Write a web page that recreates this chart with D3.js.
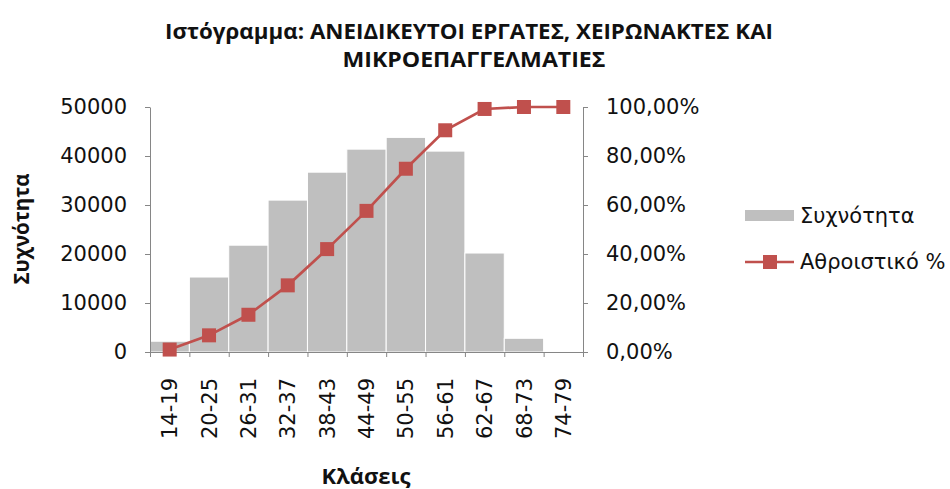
<!DOCTYPE html>
<html>
<head>
<meta charset="utf-8">
<script src="https://cdn.jsdelivr.net/npm/d3@7"></script>
<style>
  body { margin: 0; background: #fff; }
  svg { display: block; }
  .tick text { font-family: "DejaVu Sans", sans-serif; font-size: 21px; fill: #111; }
  .axis path, .axis line { stroke: #868686; }
  .ttl { font-family: "Open Sans", sans-serif; font-weight: bold; fill: #111; }
  .leg { font-family: "DejaVu Sans", sans-serif; font-size: 21px; fill: #111; }
</style>
</head>
<body>
<svg id="chart" width="950" height="489"></svg>
<script>
const classes = ["14-19", "20-25", "26-31", "32-37", "38-43", "44-49", "50-55", "56-61", "62-67", "68-73", "74-79"];
const frequency = [2200, 15300, 21800, 31000, 36700, 41400, 43800, 41000, 20200, 2800, 0];
const cumulative = [0.010, 0.068, 0.152, 0.272, 0.420, 0.576, 0.748, 0.905, 0.992, 1.0, 1.0];
const leftTicks = [0, 10000, 20000, 30000, 40000, 50000];
const rightTicks = [0, 0.2, 0.4, 0.6, 0.8, 1.0];

const svg = d3.select("#chart");
const plotLeft = 150, plotRight = 583, plotTop = 107, plotBottom = 352;
const barColor = "#BFBFBF", lineColor = "#C0504D";

const x = d3.scaleBand().domain(classes).range([plotLeft, plotRight]).padding(0);
const edge = d3.scaleLinear().domain([0, classes.length]).range([plotLeft, plotRight]);
const y = d3.scaleLinear().domain([0, 50000]).range([plotBottom, plotTop]);
const y2 = d3.scaleLinear().domain([0, 1]).range([plotBottom, plotTop]);

// bars
svg.append("g").selectAll("rect")
  .data(frequency)
  .enter().append("rect")
  .attr("x", (d, i) => x(classes[i]))
  .attr("width", x.bandwidth())
  .attr("y", d => y(d))
  .attr("height", d => plotBottom - y(d))
  .attr("fill", barColor)
  .attr("stroke", "#fff")
  .attr("stroke-width", 1);

// axes
svg.append("g").attr("class", "axis")
  .attr("transform", `translate(${plotLeft},0)`)
  .call(d3.axisLeft(y).tickValues(leftTicks).tickSize(5).tickSizeOuter(0).tickPadding(18).tickFormat(d3.format("d")));

svg.append("g").attr("class", "axis")
  .attr("transform", `translate(${plotRight},0)`)
  .call(d3.axisRight(y2).tickValues(rightTicks).tickSize(5).tickSizeOuter(0).tickPadding(18)
    .tickFormat(d => d3.format(".2f")(d * 100).replace(".", ",") + "%"));

svg.append("g").attr("class", "axis")
  .attr("transform", `translate(0,${plotBottom})`)
  .call(d3.axisBottom(edge).tickValues(d3.range(classes.length + 1)).tickSize(5).tickSizeOuter(0).tickFormat(""));

// category labels, rotated
svg.append("g").selectAll("text")
  .data(classes)
  .enter().append("text")
  .attr("class", "leg")
  .attr("text-anchor", "end")
  .attr("dy", "0.36em")
  .attr("transform", d => `translate(${x(d) + x.bandwidth() / 2},378) rotate(-90)`)
  .text(d => d);

// cumulative line
const line = d3.line()
  .x((d, i) => x(classes[i]) + x.bandwidth() / 2)
  .y(d => y2(d));

svg.append("path")
  .datum(cumulative)
  .attr("d", line)
  .attr("fill", "none")
  .attr("stroke", lineColor)
  .attr("stroke-width", 2.7);

const ms = 14;
svg.append("g").selectAll("rect")
  .data(cumulative)
  .enter().append("rect")
  .attr("x", (d, i) => x(classes[i]) + x.bandwidth() / 2 - ms / 2)
  .attr("y", d => y2(d) - ms / 2)
  .attr("width", ms).attr("height", ms)
  .attr("fill", lineColor);

// titles
svg.append("text").attr("class", "ttl")
  .attr("x", 469).attr("y", 39).attr("text-anchor", "middle")
  .attr("font-size", 21)
  .attr("textLength", 608).attr("lengthAdjust", "spacingAndGlyphs")
  .text("Ιστόγραμμα: ΑΝΕΙΔΙΚΕΥΤΟΙ ΕΡΓΑΤΕΣ, ΧΕΙΡΩΝΑΚΤΕΣ ΚΑΙ");
svg.append("text").attr("class", "ttl")
  .attr("x", 474).attr("y", 67).attr("text-anchor", "middle")
  .attr("font-size", 21)
  .attr("textLength", 263).attr("lengthAdjust", "spacingAndGlyphs")
  .text("ΜΙΚΡΟΕΠΑΓΓΕΛΜΑΤΙΕΣ");

svg.append("text").attr("class", "ttl")
  .attr("font-size", 20.5)
  .attr("text-anchor", "middle")
  .attr("transform", "translate(29,229) rotate(-90)")
  .text("Συχνότητα");

svg.append("text").attr("class", "ttl")
  .attr("font-size", 22)
  .attr("text-anchor", "middle")
  .attr("x", 366).attr("y", 484)
  .text("Κλάσεις");

// legend
const leg = svg.append("g");
leg.append("rect").attr("x", 745).attr("y", 210).attr("width", 49).attr("height", 11).attr("fill", barColor);
leg.append("text").attr("class", "leg").attr("x", 800).attr("y", 215.5).attr("dy", "0.35em").text("Συχνότητα");
leg.append("line").attr("x1", 745).attr("x2", 794).attr("y1", 262).attr("y2", 262)
  .attr("stroke", lineColor).attr("stroke-width", 2.7);
leg.append("rect").attr("x", 770 - ms / 2).attr("y", 262 - ms / 2).attr("width", ms).attr("height", ms).attr("fill", lineColor);
leg.append("text").attr("class", "leg").attr("x", 800).attr("y", 262).attr("dy", "0.35em").text("Αθροιστικό %");
</script>
</body>
</html>
